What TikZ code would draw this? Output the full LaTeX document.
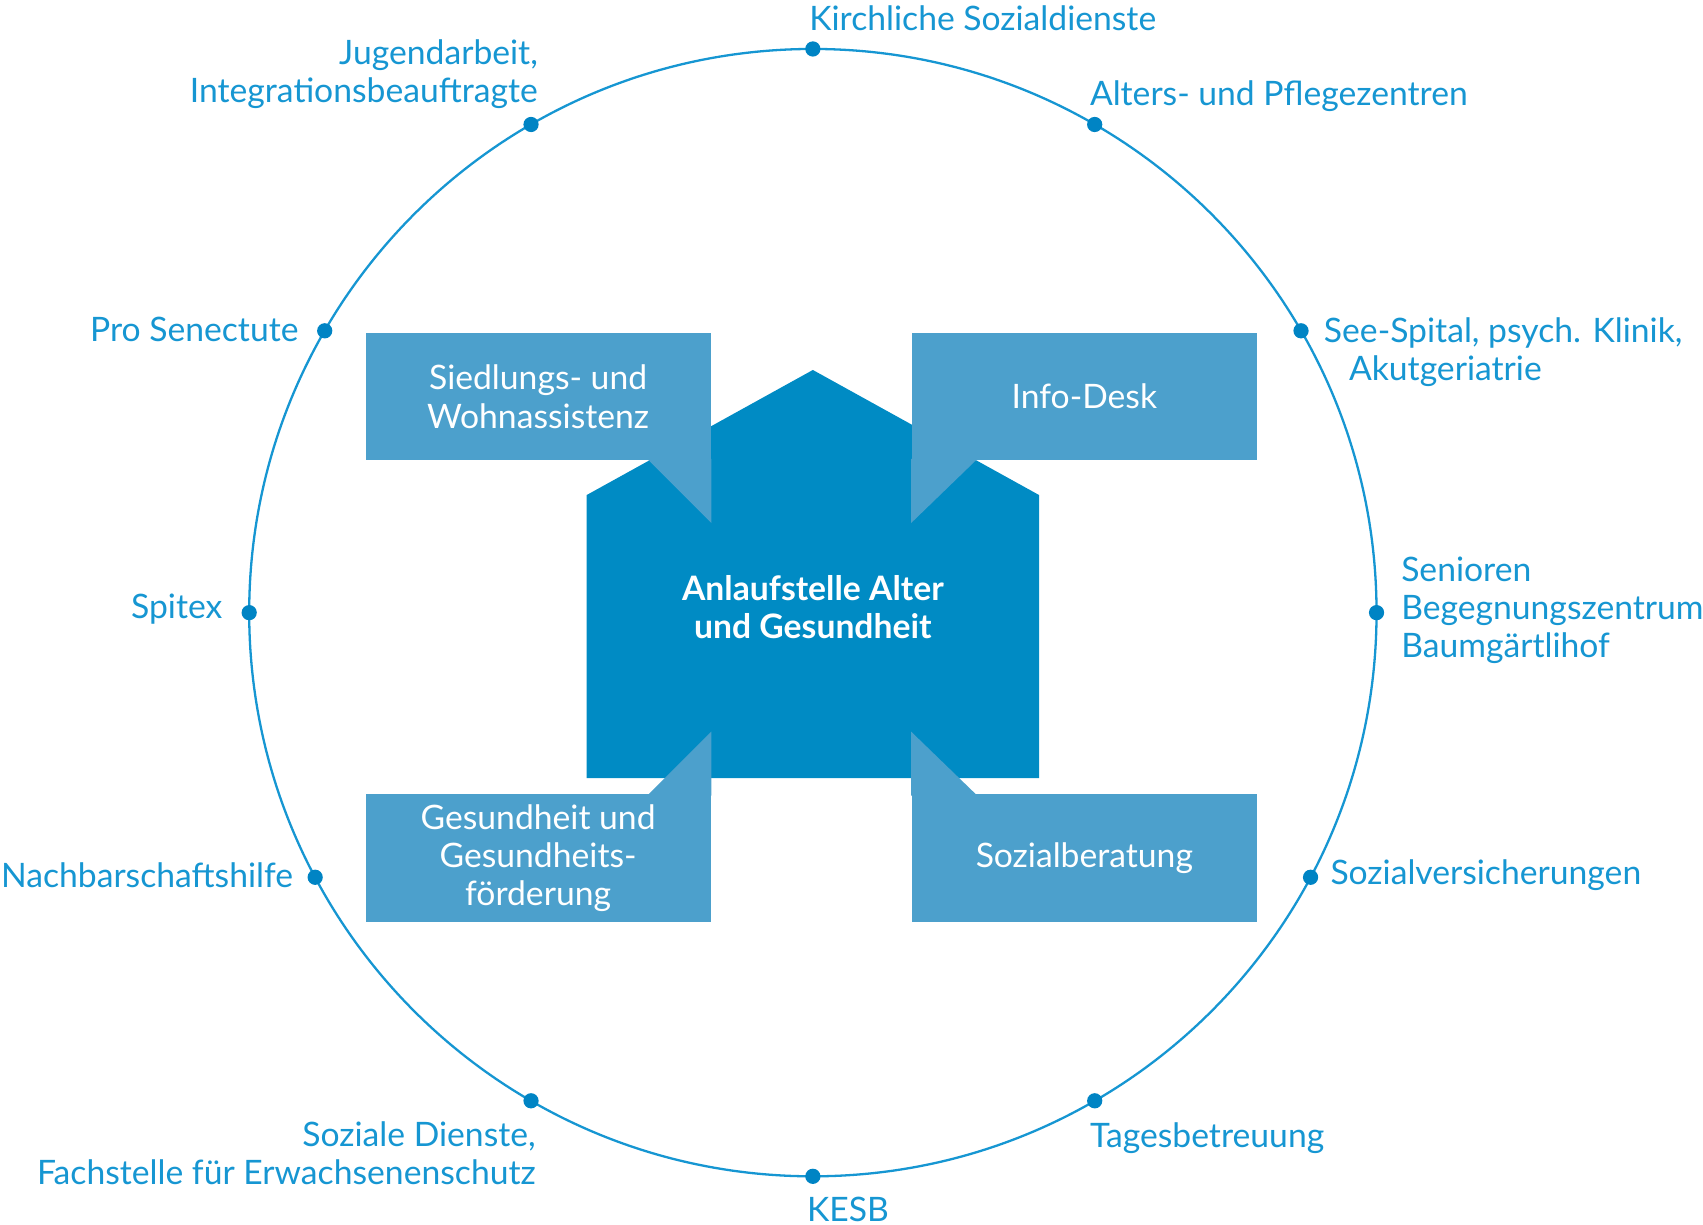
\documentclass[tikz,border=0pt]{standalone}
\usepackage{fontspec}
\setmainfont{Lato}
\usetikzlibrary{positioning}
\definecolor{ringblue}{RGB}{22,150,210}
\definecolor{dotblue}{RGB}{0,132,196}
\definecolor{houseblue}{RGB}{0,139,196}
\definecolor{boxblue}{RGB}{76,160,204}
\tikzset{
  dot/.style={circle,fill=dotblue,inner sep=0pt,minimum size=0.14cm},
  lbl/.style={text=ringblue,inner sep=0pt,font=\fontsize{8.8}{10}\selectfont},
  infobox/.style={fill=boxblue,text=white,minimum width=3.17cm,minimum height=1.17cm,
    inner sep=0pt,align=center,font=\fontsize{8.8}{10}\selectfont},
  tail/.style={fill=boxblue}
}
\begin{document}
\begin{tikzpicture}[x=0.01cm,y=-0.01cm]
				\useasboundingbox (0,0) rectangle (1565,1125.7);
				% ring
				\coordinate (c) at (747,563);
				\draw[ringblue, line width=0.6pt] (c) circle (518);

				\foreach \a in {90,60,30,0,-28,-60,-90,-120,208,180,150,120}
					{
						\node[dot] (d\a) at ([shift={(-\a:518)}]c) {};
					}

				% house
				\fill[houseblue] (539,455)--(747,340)--(955,455)--(955,715)--(539,715)--cycle;
				\node[text=white, font=\fontsize{8.8}{10}\selectfont\bfseries, align=center] (hub) at (747,558) {Anlaufstelle Alter\\und Gesundheit};

				% boxes
				\node[infobox] (tl) at (494.5,364.5) {Siedlungs- und\\Wohnassistenz};
				\node[infobox] (tr) at (996.5,364.5) {Info-Desk};
				\node[infobox] (bl) at (494.5,788.5) {Gesundheit und\\Gesundheits-\\förderung};
				\node[infobox] (br) at (996.5,788.5) {Sozialberatung};

				\fill[tail] ([yshift=0.02cm]tl.south east) -- ++(0,59) -- ++(-59,-59) -- cycle;
				\fill[tail] ([yshift=0.02cm]tr.south west) -- ++(0,59) -- ++(61,-59) -- cycle;
				\fill[tail] ([yshift=-0.02cm]bl.north east) -- ++(0,-59) -- ++(-59,59) -- cycle;
				\fill[tail] ([yshift=-0.02cm]br.north west) -- ++(0,-59) -- ++(61,59) -- cycle;

				% labels
				\node[lbl, anchor=west] (l90) at (743,17) {Kirchliche Sozialdienste};
				\node[lbl, anchor=west] (l60) at (1001,88) {Alters- und Pflegezentren};
				\node[lbl, anchor=north west, align=left] (l30) at (1216,291) {See-Spital, psych. Klinik,\\\hspace*{0.23cm}Akutgeriatrie};
				\node[lbl, anchor=west, align=left] (l0) at (1287,561) {Senioren\\Begegnungszentrum\\Baumgärtlihof};
				\node[lbl, anchor=west] (l-28) at (1222,804) {Sozialversicherungen};
				\node[lbl, anchor=west] (l-60) at (1001,1046) {Tagesbetreuung};
				\node[lbl, anchor=west] (l-90) at (741,1111) {KESB};
				\node[lbl, anchor=east, align=right] (l-120) at (493,1059.5) {Soziale Dienste,\\Fachstelle für Erwachsenenschutz};
				\node[lbl, anchor=east] (l208) at (270,804) {Nachbarschaftshilfe};
				\node[lbl, anchor=east] (l180) at (205,560) {Spitex};
				\node[lbl, anchor=east] (l150) at (275,303) {Pro Senectute};
				\node[lbl, anchor=east, align=right] (l120) at (495,68.5) {Jugendarbeit,\\Integrationsbeauftragte};
			\end{tikzpicture}
\end{document}
